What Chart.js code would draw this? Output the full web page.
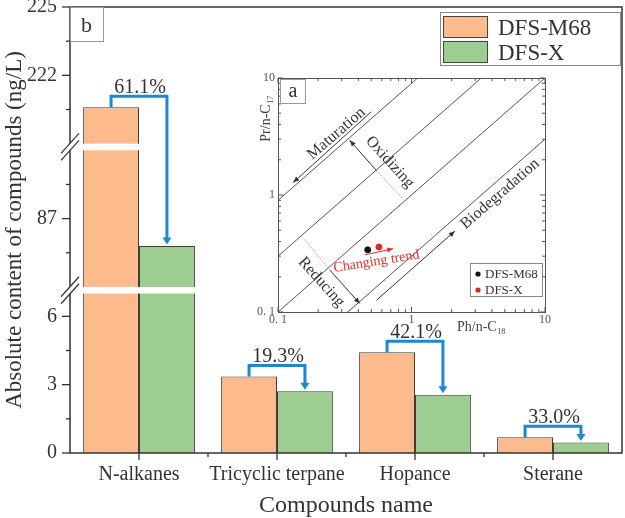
<!DOCTYPE html>
<html><head><meta charset="utf-8">
<script src="https://cdn.jsdelivr.net/npm/chart.js@4/dist/chart.umd.min.js"></script>
<style>
html,body{margin:0;padding:0;background:#fff;}
#wrap{position:relative;width:625px;height:518px;overflow:hidden;}
#main{position:absolute;left:0;top:0;}
#inset{position:absolute;left:235px;top:70px;}
</style></head><body>
<div id="wrap"><canvas id="main" width="625" height="518"></canvas><canvas id="inset" width="320" height="265"></canvas></div>
<script>
// ---------- main chart data ----------
const categories = ['N-alkanes', 'Tricyclic terpane', 'Hopance', 'Sterane'];
const seriesNames = ['DFS-M68', 'DFS-X'];
const dfsM68 = [220.6, 3.36, 4.42, 0.69];
const dfsX = [85.8, 2.71, 2.56, 0.46];
const reductionLabels = ['61.1%', '19.3%', '42.1%', '33.0%'];
const yTickValues = [0, 3, 6, 87, 222, 225];
const yTickLabels = ['0', '3', '6', '87', '222', '225'];
const yMinorTicks = [1.5, 4.5, 85.5, 88.5, 220.5, 223.5];
const ySegments = [[0, 7], [84, 90], [219, 225]];

// ---------- inset data ----------
const insetSeries = ['DFS-M68', 'DFS-X'];
const insetPh = [0.47, 0.57];   // Ph/n-C18
const insetPr = [0.34, 0.36];   // Pr/n-C17
const insetLineRatios = [9, 3, 1, 0.3];
const insetTickValues = [0.1, 1, 10];
const insetTickLabels = ['0. 1', '1', '10'];
const insetArrows = [
  {from: [0.50, 5.15], to: [0.13, 1.28], color: '#333'},
  {from: [0.546, 1.617], to: [0.345, 2.935], color: '#333'},
  {from: [0.244, 0.229], to: [0.41, 0.118], color: '#333'},
  {from: [0.546, 0.126], to: [2.11, 0.491], color: '#333'},
  {from: [0.447, 0.308], to: [0.729, 0.347], color: '#e0302a'}
];
const insetDotted = [
  {from: [0.546, 1.617], to: [0.866, 0.92]},
  {from: [0.158, 0.416], to: [0.244, 0.229]}
];
const insetTexts = [
  {text: 'Maturation', at: [0.274, 3.35], rot: -41, color: '#333', size: 16},
  {text: 'Oxidizing', at: [0.688, 1.91], rot: 48, color: '#333', size: 16},
  {text: 'Reducing', at: [0.211, 0.18], rot: 48, color: '#333', size: 16},
  {text: 'Biodegradation', at: [4.6, 1.02], rot: -41, color: '#333', size: 16},
  {text: 'Changing trend', at: [0.546, 0.27], rot: -9, color: '#e0302a', size: 14}
];

const FONT = "'Liberation Serif', 'Times New Roman', serif";
const ORANGE = '#FDBB8D';
const GREEN = '#9ECD92';
const BLUE = '#1A89CF';
const GAP = 0.29;

function toAxis(v) {
  let offset = 0;
  for (let i = 0; i < ySegments.length; i++) {
    const [a, b] = ySegments[i];
    if (v <= b || i === ySegments.length - 1) return offset + Math.max(v, a) - a;
    offset += (b - a) + GAP;
  }
}
function gapRanges() {
  const r = []; let offset = 0;
  for (let i = 0; i < ySegments.length - 1; i++) {
    offset += ySegments[i][1] - ySegments[i][0];
    r.push([offset, offset + GAP]);
    offset += GAP;
  }
  return r;
}

const mainPlugin = {
  id: 'mainDeco',
  afterDatasetsDraw(chart) {
    const {ctx, chartArea: ca, scales: {x, y}} = chart;
    ctx.save();
    // white gaps across bars
    const gaps = gapRanges().map(([g0, g1]) => [y.getPixelForValue(g1), y.getPixelForValue(g0)]);
    ctx.fillStyle = '#fff';
    gaps.forEach(([t, b]) => ctx.fillRect(ca.left + 1, t, ca.right - ca.left - 2, b - t));
    // frame
    ctx.strokeStyle = '#333'; ctx.lineWidth = 1.5;
    ctx.beginPath();
    ctx.moveTo(ca.left, ca.top); ctx.lineTo(ca.left, ca.bottom); ctx.lineTo(ca.right, ca.bottom);
    ctx.lineTo(ca.right, ca.top); ctx.closePath(); ctx.stroke();
    // y ticks
    ctx.lineWidth = 1.3;
    yTickValues.forEach(v => { const py = y.getPixelForValue(toAxis(v)); ctx.beginPath(); ctx.moveTo(ca.left - 8, py); ctx.lineTo(ca.left, py); ctx.stroke(); });
    yMinorTicks.forEach(v => { const py = y.getPixelForValue(toAxis(v)); ctx.beginPath(); ctx.moveTo(ca.left - 4, py); ctx.lineTo(ca.left, py); ctx.stroke(); });
    // x ticks
    categories.forEach((c, i) => {
      const px = x.getPixelForValue(i);
      ctx.beginPath(); ctx.moveTo(px, ca.bottom); ctx.lineTo(px, ca.bottom + 7); ctx.stroke();
      if (i > 0) {
        const mx = (px + x.getPixelForValue(i - 1)) / 2;
        ctx.beginPath(); ctx.moveTo(mx, ca.bottom); ctx.lineTo(mx, ca.bottom + 4); ctx.stroke();
      }
    });
    // break marks
    gaps.forEach(([t, b]) => {
      const yc = (t + b) / 2, ax = ca.left, o = 3.5, d = 9, h = 10;
      ctx.fillStyle = '#fff';
      ctx.beginPath();
      ctx.moveTo(ax - d, yc - o + h); ctx.lineTo(ax + d, yc - o - h);
      ctx.lineTo(ax + d, yc + o - h); ctx.lineTo(ax - d, yc + o + h); ctx.closePath(); ctx.fill();
      ctx.strokeStyle = '#333'; ctx.lineWidth = 1.2;
      [-o, o].forEach(off => { ctx.beginPath(); ctx.moveTo(ax - d, yc + off + h); ctx.lineTo(ax + d, yc + off - h); ctx.stroke(); });
    });
    // reduction brackets
    const m0 = chart.getDatasetMeta(0).data, m1 = chart.getDatasetMeta(1).data;
    reductionLabels.forEach((lab, i) => {
      const a = m0[i], b = m1[i];
      const by = a.y - 11, tip = b.y - 1.5;
      ctx.strokeStyle = BLUE; ctx.lineWidth = 3; ctx.lineJoin = 'miter'; ctx.lineCap = 'butt';
      ctx.beginPath(); ctx.moveTo(a.x, a.y); ctx.lineTo(a.x, by); ctx.lineTo(b.x, by); ctx.lineTo(b.x, tip - 6); ctx.stroke();
      ctx.fillStyle = BLUE;
      ctx.beginPath(); ctx.moveTo(b.x - 4.5, tip - 7); ctx.lineTo(b.x + 4.5, tip - 7); ctx.lineTo(b.x, tip); ctx.closePath(); ctx.fill();
      ctx.fillStyle = '#333'; ctx.font = '20px ' + FONT; ctx.textAlign = 'center'; ctx.textBaseline = 'alphabetic';
      ctx.fillText(lab, (a.x + b.x) / 2 + 1, by - 3.5);
    });
    // legend
    const lx = 440, ly = 12;
    ctx.strokeStyle = '#888'; ctx.lineWidth = 1;
    ctx.strokeRect(lx + 0.5, ly + 0.5, 180, 53);
    [ORANGE, GREEN].forEach((c, i) => {
      ctx.fillStyle = c; ctx.fillRect(lx + 3, ly + 4 + i * 25, 44, 21);
      ctx.strokeStyle = '#444'; ctx.strokeRect(lx + 3.5, ly + 4.5 + i * 25, 44, 21);
      ctx.fillStyle = '#333'; ctx.font = '23px ' + FONT; ctx.textAlign = 'left'; ctx.textBaseline = 'alphabetic';
      ctx.fillText(seriesNames[i], lx + 58, ly + 23 + i * 25);
    });
    // 'b' label
    ctx.strokeStyle = '#999'; ctx.lineWidth = 1;
    ctx.strokeRect(ca.left + 0.5, ca.top + 0.5, 33, 34);
    ctx.fillStyle = '#333'; ctx.font = '22px ' + FONT; ctx.textAlign = 'center'; ctx.textBaseline = 'alphabetic';
    ctx.fillText('b', ca.left + 16.5, ca.top + 25);
    ctx.restore();
  }
};

new Chart(document.getElementById('main'), {
  type: 'bar',
  data: {
    labels: categories,
    datasets: [
      {label: seriesNames[0], data: dfsM68.map(toAxis), backgroundColor: ORANGE, borderColor: '#3d3d3d', borderWidth: 1},
      {label: seriesNames[1], data: dfsX.map(toAxis), backgroundColor: GREEN, borderColor: '#3d3d3d', borderWidth: 1}
    ]
  },
  options: {
    responsive: false, animation: false, devicePixelRatio: 1,
    categoryPercentage: 0.81, barPercentage: 1,
    layout: {padding: {top: 7, right: 3, left: 0, bottom: 0}},
    plugins: {legend: {display: false}, tooltip: {enabled: false}},
    scales: {
      x: {
        grid: {display: false, drawTicks: false}, border: {display: false},
        ticks: {font: {family: FONT, size: 20}, color: '#333', padding: 10, maxRotation: 0, autoSkip: false},
        title: {display: true, text: 'Compounds name', font: {family: FONT, size: 24, lineHeight: 1}, color: '#333', padding: {top: 0, bottom: 0}},
        afterFit(s) { s.height = 65; s.paddingLeft = 0; s.paddingRight = 0; }
      },
      y: {
        min: 0, max: toAxis(225),
        grid: {display: false, drawTicks: false}, border: {display: false},
        afterBuildTicks(s) { s.ticks = yTickValues.map(v => ({value: toAxis(v)})); },
        ticks: {callback: (v, i) => yTickLabels[i], font: {family: FONT, size: 20}, color: '#333', padding: 13, autoSkip: false},
        title: {display: true, text: 'Absolute content of compounds (ng/L)', font: {family: FONT, size: 23, lineHeight: 1}, color: '#333', padding: {top: 3, bottom: 0}},
        afterFit(s) { s.width = 70; s.paddingTop = 0; s.paddingBottom = 0; }
      }
    }
  },
  plugins: [mainPlugin]
});

// ---------- inset ----------
function drawArrowHead(ctx, x0, y0, x1, y1, len, hw, color) {
  const a = Math.atan2(y1 - y0, x1 - x0);
  ctx.fillStyle = color;
  ctx.beginPath();
  ctx.moveTo(x1, y1);
  ctx.lineTo(x1 - len * Math.cos(a) + hw * Math.sin(a), y1 - len * Math.sin(a) - hw * Math.cos(a));
  ctx.lineTo(x1 - len * Math.cos(a) - hw * Math.sin(a), y1 - len * Math.sin(a) + hw * Math.cos(a));
  ctx.closePath(); ctx.fill();
}
function subText(ctx, main, sub, x, y, size) {
  ctx.font = size + 'px ' + FONT; ctx.fillText(main, x, y);
  const w = ctx.measureText(main).width;
  ctx.font = Math.round(size * 0.6) + 'px ' + FONT; ctx.fillText(sub, x + w + 0.5, y + 3);
}

const insetPlugin = {
  id: 'insetDeco',
  afterDatasetsDraw(chart) {
    const {ctx, chartArea: ca, scales: {x, y}} = chart;
    const P = pt => [x.getPixelForValue(pt[0]), y.getPixelForValue(pt[1])];
    ctx.save();
    // dotted guides
    ctx.strokeStyle = '#999'; ctx.lineWidth = 1; ctx.setLineDash([1.5, 1.5]);
    insetDotted.forEach(d => { const [a, b] = [P(d.from), P(d.to)]; ctx.beginPath(); ctx.moveTo(a[0], a[1]); ctx.lineTo(b[0], b[1]); ctx.stroke(); });
    ctx.setLineDash([]);
    // arrows
    insetArrows.forEach(d => {
      const [a, b] = [P(d.from), P(d.to)];
      ctx.strokeStyle = d.color; ctx.lineWidth = 1;
      ctx.beginPath(); ctx.moveTo(a[0], a[1]); ctx.lineTo(b[0], b[1]); ctx.stroke();
      drawArrowHead(ctx, a[0], a[1], b[0], b[1], 6, 2.5, d.color);
    });
    // texts
    insetTexts.forEach(t => {
      const p = P(t.at);
      ctx.save(); ctx.translate(p[0], p[1]); ctx.rotate(t.rot * Math.PI / 180);
      ctx.fillStyle = t.color; ctx.font = t.size + 'px ' + FONT; ctx.textAlign = 'center'; ctx.textBaseline = 'middle';
      ctx.fillText(t.text, 0, 0); ctx.restore();
    });
    // frame
    ctx.strokeStyle = '#555'; ctx.lineWidth = 1;
    ctx.strokeRect(Math.round(ca.left) + 0.5, Math.round(ca.top) + 0.5, Math.round(ca.right - ca.left), Math.round(ca.bottom - ca.top));
    // ticks (inward, all sides)
    const minors = [];
    [0.1, 1].forEach(d => { for (let k = 2; k <= 9; k++) minors.push(d * k); });
    const tick = (v, len) => {
      const px = x.getPixelForValue(v), py = y.getPixelForValue(v);
      ctx.beginPath();
      ctx.moveTo(px, ca.bottom); ctx.lineTo(px, ca.bottom - len);
      ctx.moveTo(px, ca.top); ctx.lineTo(px, ca.top + len);
      ctx.moveTo(ca.left, py); ctx.lineTo(ca.left + len, py);
      ctx.moveTo(ca.right, py); ctx.lineTo(ca.right - len, py);
      ctx.stroke();
    };
    insetTickValues.forEach(v => tick(v, 5));
    minors.forEach(v => tick(v, 3));
    // 'a' label
    ctx.fillStyle = '#fff'; ctx.fillRect(ca.left + 2, ca.top + 1, 25, 24);
    ctx.strokeStyle = '#999'; ctx.strokeRect(ca.left + 2.5, ca.top + 1.5, 25, 24);
    ctx.fillStyle = '#333'; ctx.font = '20px ' + FONT; ctx.textAlign = 'center'; ctx.textBaseline = 'alphabetic';
    ctx.fillText('a', ca.left + 15, ca.top + 19);
    // legend
    const bw = 72, bh = 33, bx = ca.right - 3 - bw, by = ca.bottom - 16 - bh;
    ctx.fillStyle = '#fff'; ctx.fillRect(bx, by, bw, bh);
    ctx.strokeStyle = '#888'; ctx.strokeRect(bx + 0.5, by + 0.5, bw, bh);
    ['#111', '#e0231f'].forEach((c, i) => {
      const cy = by + 11 + i * 16;
      ctx.fillStyle = c; ctx.beginPath(); ctx.arc(bx + 8, cy, 2.6, 0, Math.PI * 2); ctx.fill();
      ctx.fillStyle = '#333'; ctx.font = '13px ' + FONT; ctx.textAlign = 'left'; ctx.textBaseline = 'middle';
      ctx.fillText(insetSeries[i], bx + 15, cy + 1);
    });
    // axis titles
    ctx.fillStyle = '#444'; ctx.textAlign = 'left'; ctx.textBaseline = 'alphabetic';
    subText(ctx, 'Ph/n-C', '18', ca.left + 179, ca.bottom + 19, 14);
    ctx.save(); ctx.translate(ca.left - 8, ca.top + 40); ctx.rotate(-Math.PI / 2);
    ctx.font = '14px ' + FONT;
    const w = ctx.measureText('Pr/n-C').width + 10;
    subText(ctx, 'Pr/n-C', '17', -w / 2, 0, 14);
    ctx.restore();
    ctx.restore();
  }
};

new Chart(document.getElementById('inset'), {
  type: 'scatter',
  data: {
    datasets: [
      ...insetLineRatios.map(r => ({data: [{x: 0.05, y: 0.05 * r}, {x: 20, y: 20 * r}], showLine: true, borderColor: '#555', borderWidth: 1, pointRadius: 0})),
      {label: insetSeries[0], data: [{x: insetPh[0], y: insetPr[0]}], backgroundColor: '#111', borderColor: '#111', pointRadius: 3},
      {label: insetSeries[1], data: [{x: insetPh[1], y: insetPr[1]}], backgroundColor: '#e0231f', borderColor: '#e0231f', pointRadius: 3}
    ]
  },
  options: {
    responsive: false, animation: false, devicePixelRatio: 1,
    layout: {padding: {top: 8, right: 10, left: 0, bottom: 0}},
    plugins: {legend: {display: false}, tooltip: {enabled: false}},
    scales: {
      x: {
        type: 'logarithmic', min: 0.1, max: 10,
        grid: {display: false, drawTicks: false}, border: {display: false},
        afterBuildTicks(s) { s.ticks = insetTickValues.map(v => ({value: v})); },
        ticks: {callback: (v, i) => insetTickLabels[i], font: {family: FONT, size: 12}, color: '#555', padding: 1, maxRotation: 0, autoSkip: false},
        afterFit(s) { s.height = 23; s.paddingLeft = 0; s.paddingRight = 0; }
      },
      y: {
        type: 'logarithmic', min: 0.1, max: 10,
        grid: {display: false, drawTicks: false}, border: {display: false},
        afterBuildTicks(s) { s.ticks = insetTickValues.map(v => ({value: v})); },
        ticks: {callback: (v, i) => insetTickLabels[i], font: {family: FONT, size: 12}, color: '#555', padding: 3, autoSkip: false},
        afterFit(s) { s.width = 43; s.paddingTop = 0; s.paddingBottom = 0; }
      }
    }
  },
  plugins: [insetPlugin]
});
</script>
</body></html>
